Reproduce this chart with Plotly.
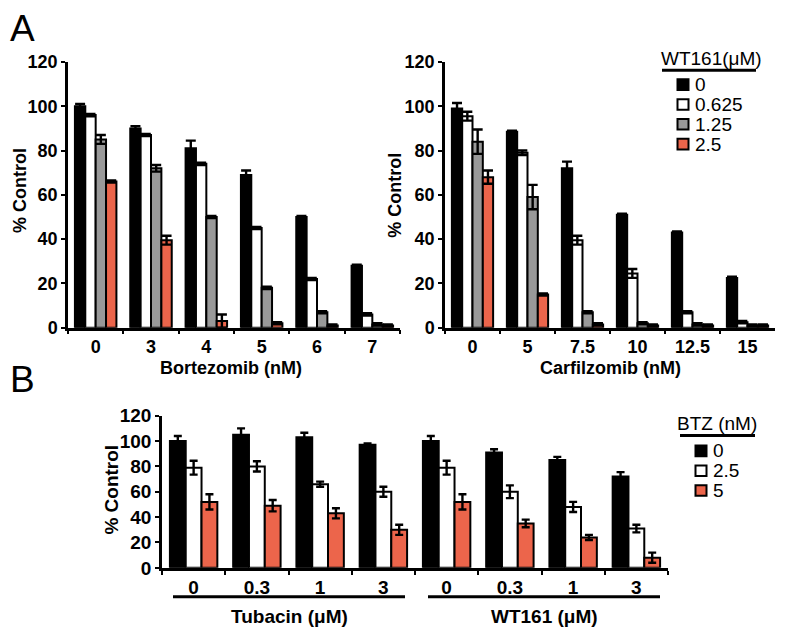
import plotly.graph_objects as go

# page has an 8px body margin: figure drawn at (8, 8) inside a 796x640 window
OX, OY = 8, 8
W, H = 780, 624
def px(x): return (x - OX) / W
def py(y): return 1 - (y - OY) / H

# ---------------- data ----------------
btz_doses = ["0", "3", "4", "5", "6", "7"]
cfz_doses = ["0", "5", "7.5", "10", "12.5", "15"]
wt_levels = ["0", "0.625", "1.25", "2.5"]

btz_wt0 = [100, 90, 81, 69, 50, 28]
btz_wt0625 = [96, 87, 74, 45, 22, 6]
btz_wt125 = [85, 72, 50, 18, 7, 1.5]
btz_wt25 = [66, 39.5, 3, 2, 1, 1]
btz_wt0_err = [1, 1, 3.5, 2, 0.5, 0.5]
btz_wt0625_err = [0.5, 0.5, 0.5, 0.5, 0.5, 0.5]
btz_wt125_err = [2, 1.5, 0.5, 0.5, 0.5, 0.5]
btz_wt25_err = [0.5, 2, 3, 0.5, 0.5, 0.5]

cfz_wt0 = [99, 88.5, 72, 51, 43, 22.5]
cfz_wt0625 = [95.5, 79, 39.5, 24.5, 7, 2.5]
cfz_wt125 = [84, 59, 7, 2, 1.5, 1]
cfz_wt25 = [68, 15, 1.5, 1, 1, 1]
cfz_wt0_err = [2.5, 0.5, 3, 0.5, 0.5, 0.5]
cfz_wt0625_err = [2, 1, 2, 2, 0.5, 0.5]
cfz_wt125_err = [5.5, 5.5, 0.5, 0.5, 0.5, 0.5]
cfz_wt25_err = [3, 0.5, 0.5, 0.5, 0.5, 0.5]

b_categories = ["Tubacin 0", "Tubacin 0.3", "Tubacin 1", "Tubacin 3",
                "WT161 0", "WT161 0.3", "WT161 1", "WT161 3"]
b_ticklabels = ["0", "0.3", "1", "3", "0", "0.3", "1", "3"]
btz_levels = ["0", "2.5", "5"]
b_btz0 = [100, 105, 103, 97, 100, 91, 85, 72]
b_btz25 = [79, 80, 66, 60, 79, 60, 48, 31]
b_btz5 = [52, 49, 43, 30, 52, 35, 24, 8]
b_btz0_err = [4, 5, 3.5, 1, 4, 2.5, 2.5, 3.5]
b_btz25_err = [5.5, 4, 2, 4, 5.5, 5, 4, 3]
b_btz5_err = [6, 4.5, 4, 4, 6, 3, 2, 4]

# ---------------- style ----------------
BLACK = "#000000"
RED = "#EC654B"
GRAY = "#999999"
WHITE = "#FFFFFF"
FONT = "Liberation Sans, Arial, sans-serif"

fig = go.Figure()

def add_bars(cats, vals, errs, color, xa, ya, name, capw):
    fig.add_trace(go.Bar(
        x=cats, y=vals, name=name, xaxis=xa, yaxis=ya,
        marker=dict(color=color, line=dict(color=BLACK, width=2)),
        error_y=dict(type="data", array=errs, visible=True, color=BLACK,
                     thickness=2.4, width=capw),
        showlegend=False, offsetgroup=name,
    ))

colorsA = [BLACK, WHITE, GRAY, RED]
for vals, errs, c, lev in zip([btz_wt0, btz_wt0625, btz_wt125, btz_wt25],
                              [btz_wt0_err, btz_wt0625_err, btz_wt125_err, btz_wt25_err],
                              colorsA, wt_levels):
    add_bars(btz_doses, vals, errs, c, "x", "y", "A1_" + lev, 5)
for vals, errs, c, lev in zip([cfz_wt0, cfz_wt0625, cfz_wt125, cfz_wt25],
                              [cfz_wt0_err, cfz_wt0625_err, cfz_wt125_err, cfz_wt25_err],
                              colorsA, wt_levels):
    add_bars(cfz_doses, vals, errs, c, "x2", "y2", "A2_" + lev, 5)
colorsB = [BLACK, WHITE, RED]
for vals, errs, c, lev in zip([b_btz0, b_btz25, b_btz5],
                              [b_btz0_err, b_btz25_err, b_btz5_err],
                              colorsB, btz_levels):
    add_bars(b_categories, vals, errs, c, "x3", "y3", "B_" + lev, 4)

tickfont = dict(family=FONT, size=18, color=BLACK, weight="bold")
tickfontB = dict(family=FONT, size=19, color=BLACK, weight="bold")

def xax(domain, anchor, cats, tf, ticktext=None):
    d = dict(domain=domain, anchor=anchor, type="category",
             categoryorder="array", categoryarray=cats,
             showline=True, linecolor=BLACK, linewidth=2.5,
             ticks="outside", tickson="boundaries", ticklen=4, tickwidth=2,
             tickcolor=BLACK, tickfont=tf, showgrid=False, zeroline=False,
             ticklabelstandoff=1, fixedrange=True)
    if ticktext is not None:
        d.update(tickmode="array", tickvals=cats, ticktext=ticktext)
    return d

def yax(domain, anchor, tf):
    return dict(domain=domain, anchor=anchor, range=[0, 120], dtick=20,
                showline=True, linecolor=BLACK, linewidth=2.5,
                ticks="outside", ticklen=4, tickwidth=2, tickcolor=BLACK,
                tickfont=tf, showgrid=False, zeroline=False, fixedrange=True)

fig.update_layout(
    width=W, height=H, margin=dict(l=0, r=0, t=0, b=0),
    paper_bgcolor="white", plot_bgcolor="white",
    barmode="group", bargap=0.25, bargroupgap=0,
    xaxis=xax([px(68), px(400)], "y", btz_doses, tickfont),
    yaxis=yax([py(328.5), py(53.5)], "x", tickfont),
    xaxis2=xax([px(445), px(775)], "y2", cfz_doses, tickfont),
    yaxis2=yax([py(328.5), py(53.5)], "x2", tickfont),
    xaxis3=xax([px(162), px(668)], "y3", b_categories, tickfontB, b_ticklabels),
    yaxis3=yax([py(577), py(419.5)], "x3", tickfontB),
)

ann = []
def text(x, y, s, size, bold=False, xanchor="center", angle=0, yanchor="middle"):
    ann.append(dict(x=px(x), y=py(y), xref="paper", yref="paper", text=s,
                    showarrow=False, xanchor=xanchor, yanchor=yanchor,
                    textangle=angle,
                    font=dict(family=FONT, size=size, color=BLACK,
                              weight="bold" if bold else "normal")))

# panel letters
text(8, 19, "A", 37, xanchor="left")
text(8, 382, "B", 37, xanchor="left")
# axis titles
text(20, 187, "% Control", 18, True, angle=-90)
text(395, 192, "% Control", 18, True, angle=-90)
text(112, 496, "% Control", 19, True, angle=-90)
text(231, 370, "Bortezomib (nM)", 18, True)
text(610, 370, "Carfilzomib (nM)", 18, True)
text(289, 627, "Tubacin (μM)", 19, True)
text(544, 627, "WT161 (μM)", 19, True)

shapes = []
def hline(x0, x1, y, w=3):
    shapes.append(dict(type="line", xref="paper", yref="paper",
                       x0=px(x0), x1=px(x1), y0=py(y), y1=py(y),
                       line=dict(color=BLACK, width=w)))
def swatch(cx, cy, color, s=11):
    shapes.append(dict(type="rect", xref="paper", yref="paper",
                       x0=px(cx - s / 2), x1=px(cx + s / 2),
                       y0=py(cy + s / 2), y1=py(cy - s / 2),
                       fillcolor=color, line=dict(color=BLACK, width=2)))

# group underlines panel B
hline(173, 405, 607)
hline(428, 660, 607)

# legend A
text(711, 50, "WT161(μM)", 19)
hline(662, 756, 62)
for i, (lev, c) in enumerate(zip(wt_levels, colorsA)):
    yy = 77 + i * 20.5
    swatch(683, yy, c)
    text(693, yy, lev, 19, xanchor="left")

# legend B
text(717, 428, "BTZ (nM)", 19)
hline(680, 755, 440)
for i, (lev, c) in enumerate(zip(btz_levels, colorsB)):
    yy = 456 + i * 20.5
    swatch(701, yy, c)
    text(711, yy, lev, 19, xanchor="left")

fig.update_layout(annotations=ann, shapes=shapes)
fig.write_html("out.html")
